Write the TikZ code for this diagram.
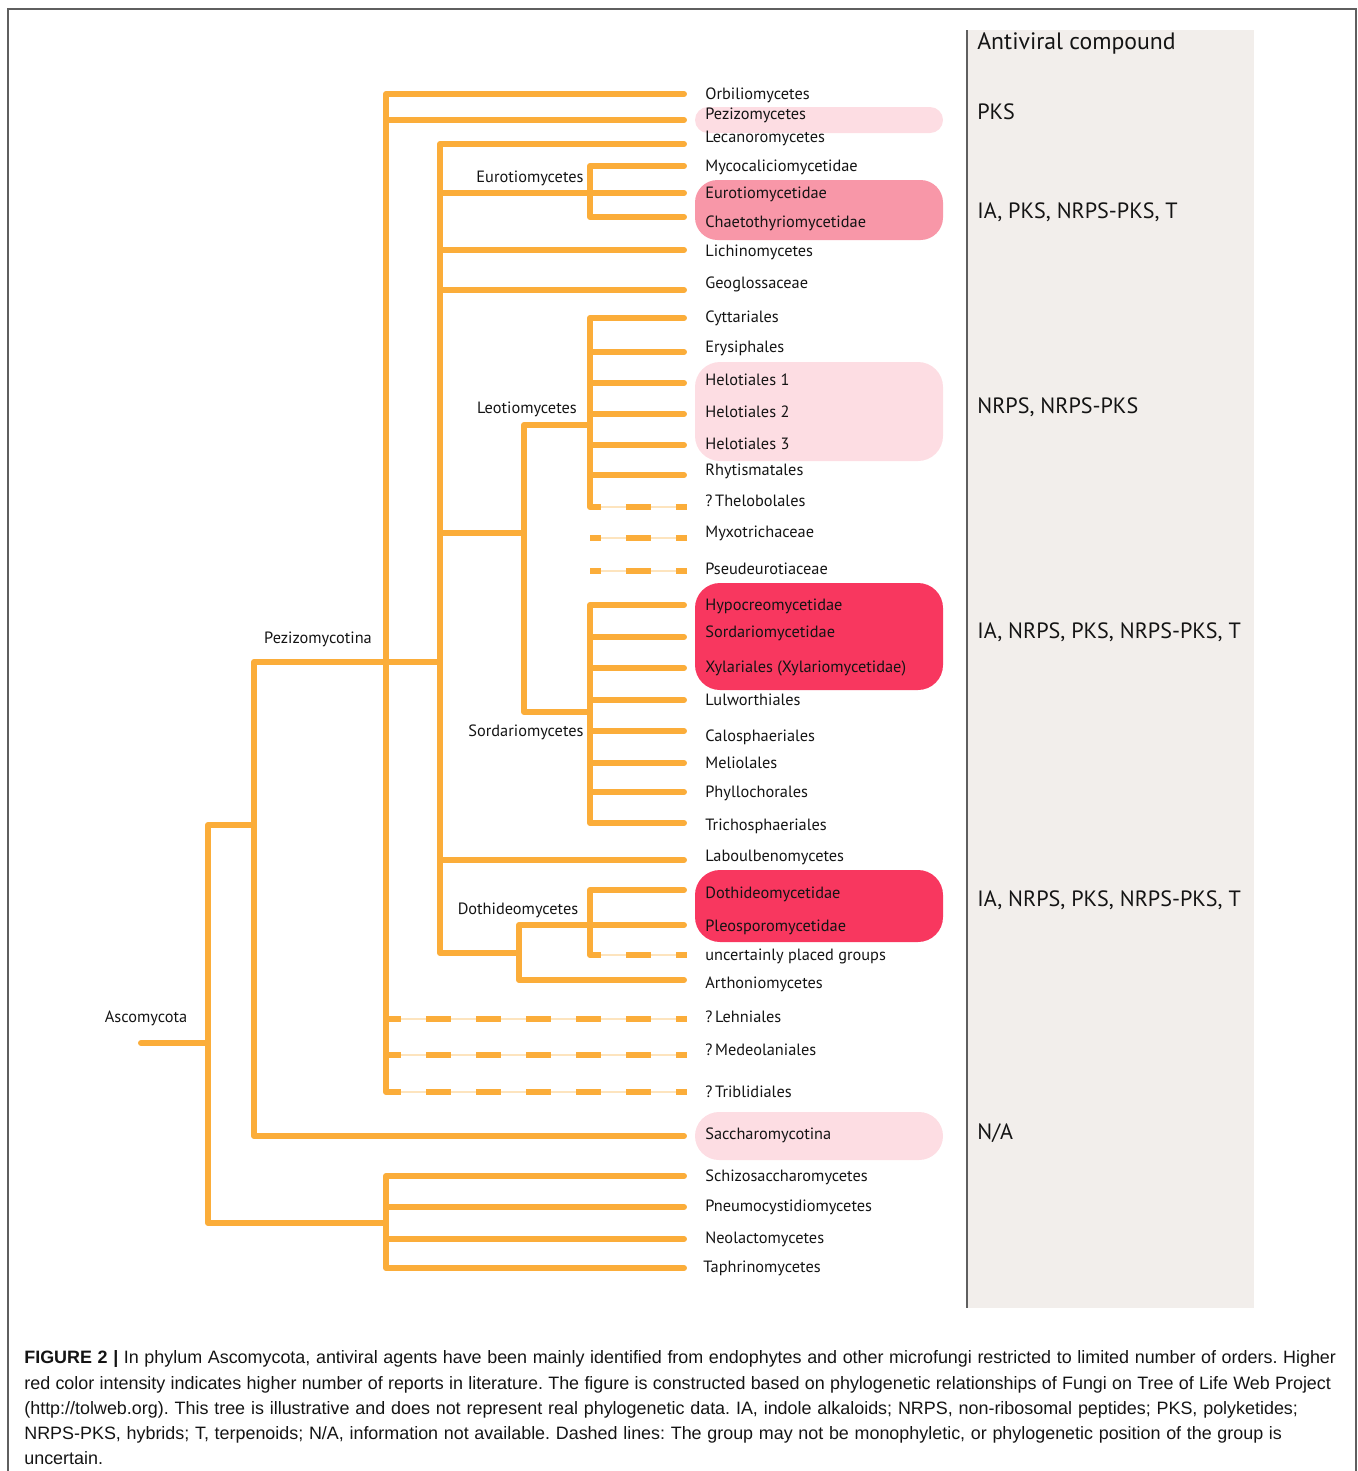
\documentclass[tikz,border=0pt]{standalone}
\usepackage{fontspec}
\setmainfont{PT Sans}
\newfontfamily\capfont{Liberation Sans}
\definecolor{tree}{RGB}{251,173,58}
\definecolor{treelight}{RGB}{253,228,190}
\definecolor{pinkA}{RGB}{253,221,227}
\definecolor{pinkB}{RGB}{248,151,168}
\definecolor{pinkC}{RGB}{248,55,95}
\definecolor{panel}{RGB}{242,238,235}
\definecolor{frame}{RGB}{95,95,95}
\definecolor{ink}{RGB}{20,20,20}
\frenchspacing
\begin{document}
\begin{tikzpicture}[x=0.02cm,y=-0.02cm,
  br/.style={draw=tree,line width=3.4pt,line cap=round,line join=round},
  dsh/.style={draw=tree,line width=3.4pt,line cap=butt,dash pattern=on 0.5cm off 0.5cm,dash phase=#1},
  dsh/.default=0.2cm,
  thinl/.style={draw=treelight,line width=0.7pt},
  leaf/.style={anchor=base west,inner sep=0pt,text=ink,font=\fontsize{9.3}{11}\selectfont},
  grp/.style={anchor=base,inner sep=0pt,text=ink,font=\fontsize{9.3}{11}\selectfont},
  comp/.style={anchor=base west,inner sep=0pt,text=ink,font=\fontsize{12.6}{14}\selectfont},
  capl/.style={anchor=base west,inner sep=0pt,text=ink,font=\capfont\fontsize{10.2}{12}\selectfont}]
\useasboundingbox (0,0) rectangle (1358,1471);
% frame
\draw[frame,line width=1.1pt] (8,1471) -- (8,9) -- (1356,9) -- (1356,1471);
% right panel
\fill[panel] (967,30) rectangle (1254,1308);
\draw[frame,line width=1.2pt] (967,30) -- (967,1308);
% highlight boxes
\fill[pinkA,rounded corners=0.26cm] (695,107) rectangle (943,133);
\fill[pinkB,rounded corners=0.45cm] (695,180) rectangle (943,240);
\fill[pinkA,rounded corners=0.5cm] (695,362) rectangle (943,461);
\fill[pinkC,rounded corners=0.5cm] (695,583) rectangle (943,690);
\fill[pinkC,rounded corners=0.5cm] (695,870) rectangle (943,942);
\fill[pinkA,rounded corners=0.48cm] (695,1112) rectangle (943,1160);

% junction coordinates
\coordinate (r0) at (141,1043);
\coordinate (c-asc) at (208,1043);
\coordinate (c-up) at (254,825);
\coordinate (c-pez) at (386,662);
\coordinate (c-lec) at (440,662);
\coordinate (c-eur) at (590,193);
\coordinate (c-ls) at (524,533);
\coordinate (c-leo) at (590,425);
\coordinate (c-sor) at (590,712);
\coordinate (c-dot) at (519,953);
\coordinate (c-dp) at (590,925);
\coordinate (c-tap) at (386,1223);
% leaf ends
\coordinate (e-orb) at (684,94);
\coordinate (e-pzm) at (684,120);
\coordinate (e-lec) at (684,144);
\coordinate (e-myc) at (684,166);
\coordinate (e-eut) at (684,193);
\coordinate (e-cha) at (684,217);
\coordinate (e-lic) at (684,250);
\coordinate (e-geo) at (684,290);
\coordinate (e-cyt) at (684,318);
\coordinate (e-ery) at (684,352);
\coordinate (e-he1) at (684,383);
\coordinate (e-he2) at (684,414);
\coordinate (e-he3) at (684,445);
\coordinate (e-rhy) at (684,475);
\coordinate (s-the) at (590,507);
\coordinate (e-the) at (687,507);
\coordinate (s-myx) at (590,538);
\coordinate (e-myx) at (687,538);
\coordinate (s-pse) at (590,571);
\coordinate (e-pse) at (687,571);
\coordinate (e-hyp) at (684,605);
\coordinate (e-sda) at (684,637);
\coordinate (e-xyl) at (684,668);
\coordinate (e-lul) at (684,700);
\coordinate (e-cal) at (684,731);
\coordinate (e-mel) at (684,763);
\coordinate (e-phy) at (684,792);
\coordinate (e-tri) at (684,823);
\coordinate (e-lab) at (684,860);
\coordinate (e-dth) at (684,890);
\coordinate (e-ple) at (684,925);
\coordinate (s-unc) at (590,955);
\coordinate (e-unc) at (687,955);
\coordinate (e-art) at (684,980);
\coordinate (s-leh) at (386,1019);
\coordinate (e-leh) at (687,1019);
\coordinate (s-med) at (386,1055);
\coordinate (e-med) at (687,1055);
\coordinate (s-trb) at (386,1092);
\coordinate (e-trb) at (687,1092);
\coordinate (e-sac) at (684,1136);
\coordinate (e-sch) at (684,1176);
\coordinate (e-pne) at (684,1207);
\coordinate (e-neo) at (684,1239);
\coordinate (e-tap) at (684,1268);

% dashed leaves (thin line beneath)
\foreach \a/\b/\p in {s-the/e-the/0.28cm, s-myx/e-myx/0.28cm, s-pse/e-pse/0.28cm, s-unc/e-unc/0.28cm, s-leh/e-leh/0.2cm, s-med/e-med/0.2cm, s-trb/e-trb/0.2cm}{
  \draw[thinl] (\a) -- (\b);
  \draw[dsh=\p] (\a) -- (\b);
}

% tree branches
\draw[br] (r0) -- (c-asc);
\draw[br] (c-asc) |- (c-up);
\draw[br] (c-asc) |- (c-tap);
\draw[br] (c-up) |- (c-pez);
\draw[br] (c-up) |- (e-sac);
\draw[br] (c-pez) |- (e-orb);
\draw[br] (c-pez) |- (e-pzm);
\draw[br] (c-pez) -- (c-lec);
\draw[br] (c-pez) -- (s-trb);
\draw[br] (c-lec) |- (e-lec);
\draw[br] (c-lec) |- (c-eur);
\draw[br] (c-eur) |- (e-myc);
\draw[br] (c-eur) -- (e-eut);
\draw[br] (c-eur) |- (e-cha);
\draw[br] (c-lec) |- (e-lic);
\draw[br] (c-lec) |- (e-geo);
\draw[br] (c-lec) |- (c-ls);
\draw[br] (c-ls) |- (c-leo);
\foreach \e in {e-cyt,e-ery,e-he1,e-he2,e-he3,e-rhy}{\draw[br] (c-leo) |- (\e);}
\draw[br] (c-leo) -- (s-the);
\draw[br] (c-ls) |- (c-sor);
\foreach \e in {e-hyp,e-sda,e-xyl,e-lul,e-cal,e-mel,e-phy,e-tri}{\draw[br] (c-sor) |- (\e);}
\draw[br] (c-lec) |- (e-lab);
\draw[br] (c-lec) |- (c-dot);
\draw[br] (c-dot) |- (e-ple);
\draw[br] (c-dot) |- (e-art);
\draw[br] (c-dp) |- (e-dth);
\draw[br] (c-dp) -- (s-unc);
\foreach \e in {e-sch,e-pne,e-neo,e-tap}{\draw[br] (c-tap) |- (\e);}

% group labels
\node[grp] (l-asc) at (146,1022) {Ascomycota};
\node[grp] (l-pez) at (318,643) {Pezizomycotina};
\node[grp] (l-eur) at (530,182) {Eurotiomycetes};
\node[grp] (l-leo) at (527,413) {Leotiomycetes};
\node[grp] (l-sor) at (526,736) {Sordariomycetes};
\node[grp] (l-dot) at (518,914) {Dothideomycetes};

% leaf labels
\node[leaf] (t-orb) at (705,99) {Orbiliomycetes};
\node[leaf] (t-pzm) at (705,119) {Pezizomycetes};
\node[leaf] (t-lec) at (705,142) {Lecanoromycetes};
\node[leaf] (t-myc) at (705,171) {Mycocaliciomycetidae};
\node[leaf] (t-eut) at (705,198) {Eurotiomycetidae};
\node[leaf] (t-cha) at (705,227) {Chaetothyriomycetidae};
\node[leaf] (t-lic) at (705,256) {Lichinomycetes};
\node[leaf] (t-geo) at (705,288) {Geoglossaceae};
\node[leaf] (t-cyt) at (705,322) {Cyttariales};
\node[leaf] (t-ery) at (705,352) {Erysiphales};
\node[leaf] (t-he1) at (705,385) {Helotiales 1};
\node[leaf] (t-he2) at (705,417) {Helotiales 2};
\node[leaf] (t-he3) at (705,449) {Helotiales 3};
\node[leaf] (t-rhy) at (705,475) {Rhytismatales};
\node[leaf] (t-the) at (705,506) {?\,Thelobolales};
\node[leaf] (t-myx) at (705,537) {Myxotrichaceae};
\node[leaf] (t-pse) at (705,574) {Pseudeurotiaceae};
\node[leaf] (t-hyp) at (705,610) {Hypocreomycetidae};
\node[leaf] (t-sda) at (705,637) {Sordariomycetidae};
\node[leaf] (t-xyl) at (705,672) {Xylariales (Xylariomycetidae)};
\node[leaf] (t-lul) at (705,705) {Lulworthiales};
\node[leaf] (t-cal) at (705,741) {Calosphaeriales};
\node[leaf] (t-mel) at (705,768) {Meliolales};
\node[leaf] (t-phy) at (705,797) {Phyllochorales};
\node[leaf] (t-tri) at (705,830) {Trichosphaeriales};
\node[leaf] (t-lab) at (705,861) {Laboulbenomycetes};
\node[leaf] (t-dth) at (705,898) {Dothideomycetidae};
\node[leaf] (t-ple) at (705,931) {Pleosporomycetidae};
\node[leaf] (t-unc) at (705,960) {uncertainly placed groups};
\node[leaf] (t-art) at (705,988) {Arthoniomycetes};
\node[leaf] (t-leh) at (705,1022) {?\,Lehniales};
\node[leaf] (t-med) at (705,1055) {?\,Medeolaniales};
\node[leaf] (t-trb) at (705,1097) {?\,Triblidiales};
\node[leaf] (t-sac) at (705,1139) {Saccharomycotina};
\node[leaf] (t-sch) at (705,1181) {Schizosaccharomycetes};
\node[leaf] (t-pne) at (705,1211) {Pneumocystidiomycetes};
\node[leaf] (t-neo) at (705,1243) {Neolactomycetes};
\node[leaf] (t-tap) at (703,1272) {Taphrinomycetes};

% compound column
\node[comp,font=\fontsize{13.5}{15}\selectfont] (h-col) at (977,49) {Antiviral compound};
\node[comp] (k1) at (977,119) {PKS};
\node[comp] (k2) at (977,218) {IA, PKS, NRPS-PKS, T};
\node[comp] (k3) at (977,413) {NRPS, NRPS-PKS};
\node[comp] (k4) at (977,638) {IA, NRPS, PKS, NRPS-PKS, T};
\node[comp] (k5) at (977,906) {IA, NRPS, PKS, NRPS-PKS, T};
\node[comp] (k6) at (977,1139) {N/A};

% caption
\node[capl] (cap1) at (24,1363) {\makebox[26.24cm][s]{\textbf{FIGURE 2 |} In phylum Ascomycota, antiviral agents have been mainly identified from endophytes and other microfungi restricted to limited number of orders. Higher}};
\node[capl] (cap2) at (24,1389) {\makebox[26.14cm][s]{red color intensity indicates higher number of reports in literature. The figure is constructed based on phylogenetic relationships of Fungi on Tree of Life Web Project}};
\node[capl] (cap3) at (24,1414) {\makebox[25.48cm][s]{(http://tolweb.org). This tree is illustrative and does not represent real phylogenetic data. IA, indole alkaloids; NRPS, non-ribosomal peptides; PKS, polyketides;}};
\node[capl] (cap4) at (24,1439) {\makebox[25.16cm][s]{NRPS-PKS, hybrids; T, terpenoids; N/A, information not available. Dashed lines: The group may not be monophyletic, or phylogenetic position of the group is}};
\node[capl] (cap5) at (24,1464) {uncertain.};
\end{tikzpicture}
\end{document}
